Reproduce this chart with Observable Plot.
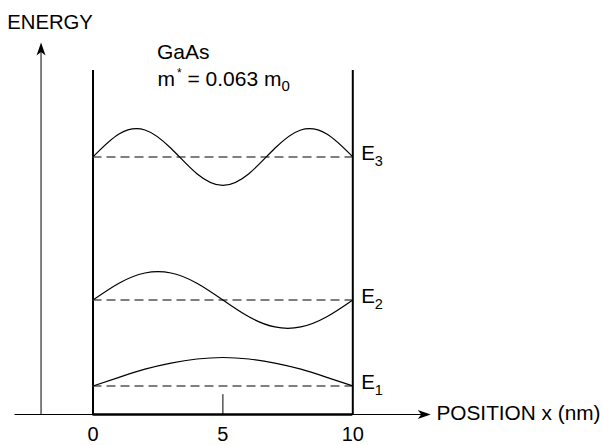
<!DOCTYPE html>
<html>
<head>
<meta charset="utf-8">
<script src="https://cdn.jsdelivr.net/npm/d3@7"></script>
<script src="https://cdn.jsdelivr.net/npm/@observablehq/plot@0.6"></script>
<style>
  html, body { margin: 0; padding: 0; background: #fff; }
  svg { display: block; }
</style>
</head>
<body>
<div id="chart"></div>
<script>
// ---- data ----
const positions = [0, 1, 2, 3, 4, 5, 6, 7, 8, 9, 10];          // nm
const levelNames = ["1", "2", "3"];
const levelEnergies = [56, 225, 506];                            // arbitrary energy units
const psi1 = [0, 17, 33, 45, 53, 56, 53, 45, 33, 17, 0];
const psi2 = [0, 33, 53, 53, 33, 0, -33, -53, -53, -33, 0];
const psi3 = [0, 45, 53, 17, -33, -56, -33, 17, 53, 45, 0];
const xTickValues = [0, 5, 10];
const minorTicks = [5];
const wellWalls = [0, 10];
const xAxisLabel = "POSITION x (nm)";
const yAxisLabel = "ENERGY";
const material = "GaAs";
const massValue = "0.063";

// ---- build tables ----
const psis = [psi1, psi2, psi3];
const waves = levelEnergies.flatMap((E, i) =>
  positions.map((x, j) => ({level: levelNames[i], x, y: E + psis[i][j]})));
const levels = levelEnergies.map((E, i) => ({name: levelNames[i], E}));

const font = "'Liberation Sans', Arial, Helvetica, sans-serif";
const k = 0.509; // px per energy unit
const wallTop = 676, energyTip = 731, xMin = -3, xTip = 13, yAxisX = -2;

const arrowHead = {
  draw(ctx) {
    ctx.moveTo(0, 0);
    ctx.lineTo(4.5, 13);
    ctx.lineTo(0, 9.5);
    ctx.lineTo(-4.5, 13);
    ctx.closePath();
  }
};

const svg = Plot.plot({
  width: 603,
  height: 445,
  margin: 0,
  style: {fontFamily: font, background: "#fff", color: "#000"},
  x: {domain: [0, 10], range: [92.5, 352.3], axis: null},
  y: {domain: [0, 800], range: [414, 414 - 800 * k], axis: null},
  marks: [
    // energy axis
    Plot.ruleX([yAxisX], {x: d => d, y1: 0, y2: energyTip - 8, stroke: "#000", strokeWidth: 1}),
    Plot.dot([yAxisX], {x: d => d, y: energyTip, symbol: arrowHead, r: 5, fill: "#000", stroke: "none"}),
    // position axis
    Plot.ruleY([0], {x1: xMin, x2: xTip - 0.3, y: d => d, stroke: "#000", strokeWidth: 1}),
    Plot.dot([0], {x: xTip, y: d => d, symbol: arrowHead, r: 5, rotate: 90, fill: "#000", stroke: "none"}),
    // well bottom and walls
    Plot.ruleY([0], {x1: wellWalls[0], x2: wellWalls[1], y: d => d, stroke: "#000", strokeWidth: 2.5}),
    Plot.ruleX(wellWalls, {x: d => d, y1: 0, y2: wallTop, stroke: "#000", strokeWidth: 2}),
    Plot.ruleX(minorTicks, {x: d => d, y1: 0, y2: 39, stroke: "#000", strokeWidth: 1}),
    // energy levels
    Plot.ruleY(levels, {x1: 0, x2: 10, y: "E", stroke: "#555", strokeWidth: 1.4, strokeDasharray: "9,5"}),
    // wavefunctions
    Plot.line(waves, {x: "x", y: "y", z: "level", curve: "natural", stroke: "#000", strokeWidth: 1.2}),
    // level labels
    Plot.text(levels, {x: 10, y: "E", text: () => "E", dx: 8.5, dy: -4, textAnchor: "start", fontSize: 20.5, fill: "#000"}),
    Plot.text(levels, {x: 10, y: "E", text: "name", dx: 22, dy: 4, textAnchor: "start", fontSize: 14.5, fill: "#000"}),
    // tick labels
    Plot.text(xTickValues, {x: d => d, y: 0, text: d => String(d), dy: 20, fontSize: 20, fill: "#000"}),
    // axis labels
    Plot.text([xAxisLabel], {x: xTip, y: 0, text: d => d, dx: 5.7, dy: -1.4, textAnchor: "start", fontSize: 20.8, fill: "#000"}),
    Plot.text([yAxisLabel], {x: yAxisX, y: energyTip, text: d => d, dx: 9, dy: -20, fontSize: 20.3, fill: "#000"}),
    // material annotation
    Plot.text([material], {x: 2.46, y: 712, text: d => d, textAnchor: "start", fontSize: 21, fill: "#000"}),
    Plot.text([massValue], {x: 2.48, y: 659, text: () => "m", textAnchor: "start", fontSize: 21, fill: "#000", ariaLabel: () => "mass"})
  ]
});

let massText = d3.select(svg).select('text[aria-label="mass"]');
if (massText.empty()) {
  massText = d3.select(svg).selectAll("text").filter(function() { return this.textContent === "m"; });
}
massText.text(null);
massText.append("tspan").text("m");
massText.append("tspan").attr("dx", 2).attr("dy", -9).attr("font-size", 12).text("*");
massText.append("tspan").attr("dy", 9).text(" = " + massValue + " m");
massText.append("tspan").attr("dy", 5).attr("font-size", 15).text("0");

document.getElementById("chart").appendChild(svg);
</script>
</body>
</html>
